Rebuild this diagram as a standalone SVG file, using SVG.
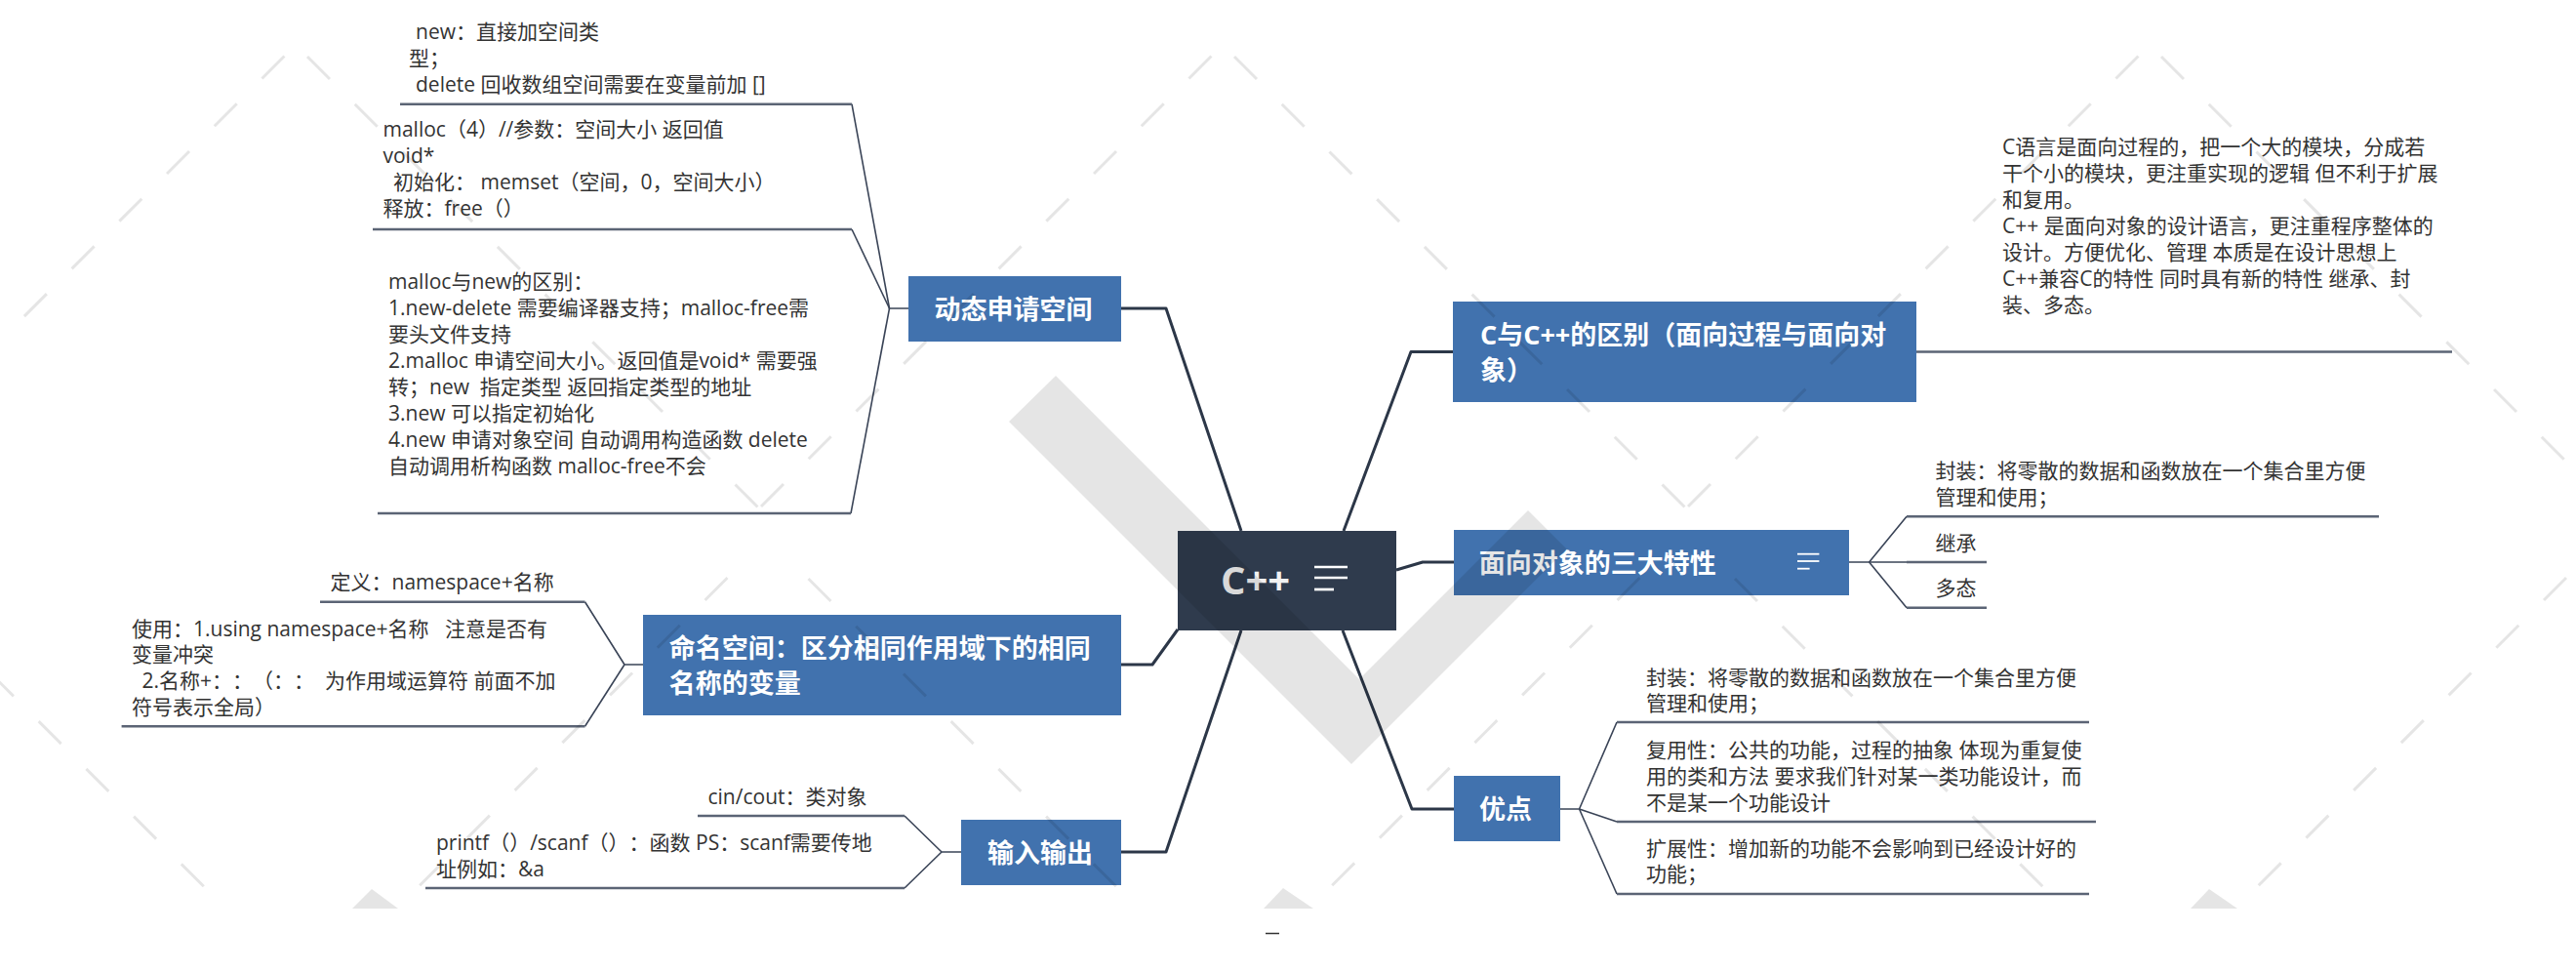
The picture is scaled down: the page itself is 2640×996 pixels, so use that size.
<svg xmlns="http://www.w3.org/2000/svg" width="2640" height="996" viewBox="0 0 2640 996">
<style>
.t{font-family:"Open Sans","Noto Sans CJK SC",sans-serif;font-size:21px;fill:#333;white-space:pre;text-spacing-trim:space-all;font-feature-settings:"chws" 0,"halt" 0}
.nt{font-family:"Open Sans","Noto Sans CJK SC",sans-serif;font-size:27px;font-weight:bold;fill:#fff;white-space:pre;text-spacing-trim:space-all;font-feature-settings:"chws" 0,"halt" 0}
.node{fill:#4172ae}
.main{fill:none;stroke:#2c3748;stroke-width:3;stroke-linejoin:round}
.sub{fill:none;stroke:#3a4457;stroke-width:1.6;stroke-linejoin:round}
.ul{fill:none;stroke:#5b6475;stroke-width:2.5}
.ic{stroke:#fff;stroke-linecap:butt}
.wm{fill:none;stroke:#000;stroke-opacity:.1;stroke-width:3;stroke-dasharray:32.5 36.4}
.wmf{fill:#000;fill-opacity:.1}
</style>
<rect width="2640" height="996" fill="#fff"/>

<g id="connectors">
  <polyline class="main" points="1272,544 1195,316 1149,316"/>
  <polyline class="main" points="1207,645 1181,681 1149,681"/>
  <polyline class="main" points="1272,646 1195,873 1149,873"/>
  <polyline class="main" points="1377,544 1446,360.5 1489,360.5"/>
  <polyline class="main" points="1431,584 1458,576 1490,576"/>
  <polyline class="main" points="1376,646 1447,829 1490,829"/>
  <polyline class="sub" points="931,316 911.5,316 873,106.7"/>
  <polyline class="sub" points="911.5,316 873,235"/>
  <polyline class="sub" points="911.5,316 872,526"/>
  <polyline class="sub" points="659,681 640,681 599.5,616.7"/>
  <polyline class="sub" points="640,681 599.5,744.3"/>
  <polyline class="sub" points="985,873 965,873 927,836"/>
  <polyline class="sub" points="965,873 927,910"/>
  <polyline class="sub" points="1895,576 1915.6,576 1954,529.3"/>
  <polyline class="sub" points="1915.6,576 1954,576"/>
  <polyline class="sub" points="1915.6,576 1954,622.7"/>
  <polyline class="sub" points="1599,829 1618.5,829 1657,740"/>
  <polyline class="sub" points="1618.5,829 1657,842"/>
  <polyline class="sub" points="1618.5,829 1657,916"/>
  <line class="ul" x1="1964" y1="360.6" x2="2040" y2="360.6"/>
</g>

<g id="center">
  <rect x="1207" y="544" width="224" height="102" fill="#2f3b4d"/>
  <text x="1251" y="609" style="font-family:'Open Sans','Noto Sans CJK SC',sans-serif;font-size:40px;font-weight:bold;fill:#f2f2f2">C++</text>
  <line class="ic" x1="1347" y1="581" x2="1381" y2="581" stroke-width="2.7"/>
  <line class="ic" x1="1347" y1="592" x2="1381" y2="592" stroke-width="2.7"/>
  <line class="ic" x1="1347" y1="604" x2="1367" y2="604" stroke-width="2.7"/>
</g>

<g id="node-dynamic">
  <rect class="node" x="931" y="283" width="218" height="67"/>
  <text class="nt" x="957.5" y="327">动态申请空间</text>
</g>
<g id="node-dynamic-new">
  <text class="t"><tspan x="426" y="40">new：直接加空间类</tspan><tspan x="419" y="67">型；</tspan><tspan x="426" y="94">delete 回收数组空间需要在变量前加 []</tspan></text>
  <line class="ul" x1="410" y1="106.7" x2="873" y2="106.7"/>
</g>
<g id="node-dynamic-malloc">
  <text class="t"><tspan x="392.5" y="140">malloc（4）//参数：空间大小 返回值</tspan><tspan x="392.5" y="167">void*</tspan><tspan x="403" y="194">初始化： memset（空间，0，空间大小）</tspan><tspan x="392.5" y="221">释放：free（）</tspan></text>
  <line class="ul" x1="382" y1="235" x2="873" y2="235"/>
</g>
<g id="node-dynamic-diff">
  <text class="t"><tspan x="398" y="296">malloc与new的区别：</tspan><tspan x="398" y="323">1.new-delete 需要编译器支持；malloc-free需</tspan><tspan x="398" y="350">要头文件支持</tspan><tspan x="398" y="377">2.malloc 申请空间大小。返回值是void* 需要强</tspan><tspan x="398" y="404">转；new  指定类型 返回指定类型的地址</tspan><tspan x="398" y="431">3.new 可以指定初始化</tspan><tspan x="398" y="458">4.new 申请对象空间 自动调用构造函数 delete</tspan><tspan x="398" y="485">自动调用析构函数 malloc-free不会</tspan></text>
  <line class="ul" x1="387" y1="526" x2="872" y2="526"/>
</g>

<g id="node-namespace">
  <rect class="node" x="659" y="630" width="490" height="103"/>
  <text class="nt"><tspan x="685.8" y="674">命名空间：区分相同作用域下的相同</tspan><tspan x="685.8" y="710">名称的变量</tspan></text>
</g>
<g id="node-namespace-def">
  <text class="t" x="338.5" y="604">定义：namespace+名称</text>
  <line class="ul" x1="328" y1="616.7" x2="599.5" y2="616.7"/>
</g>
<g id="node-namespace-use">
  <text class="t"><tspan x="135" y="651.5">使用：1.using namespace+名称   注意是否有</tspan><tspan x="135" y="678.3">变量冲突</tspan><tspan x="145.6" y="705">2.名称+：：（：：  为作用域运算符 前面不加</tspan><tspan x="135" y="731.8">符号表示全局）</tspan></text>
  <line class="ul" x1="124.6" y1="744.3" x2="599.5" y2="744.3"/>
</g>

<g id="node-io">
  <rect class="node" x="985" y="840" width="164" height="67"/>
  <text class="nt" x="1012" y="884">输入输出</text>
</g>
<g id="node-io-cin">
  <text class="t" x="725.5" y="823.5">cin/cout：类对象</text>
  <line class="ul" x1="715" y1="836" x2="927" y2="836"/>
</g>
<g id="node-io-printf">
  <text class="t"><tspan x="447" y="870.5">printf（）/scanf（）：函数 PS：scanf需要传地</tspan><tspan x="447" y="897.5">址例如：&amp;a</tspan></text>
  <line class="ul" x1="436" y1="910" x2="927" y2="910"/>
</g>

<g id="node-cdiff">
  <rect class="node" x="1489" y="309" width="475" height="103"/>
  <text class="nt"><tspan x="1517" y="353">C与C++的区别（面向过程与面向对</tspan><tspan x="1517" y="389">象）</tspan></text>
</g>
<g id="node-cdiff-text">
  <text class="t"><tspan x="2052" y="157.5">C语言是面向过程的，把一个大的模块，分成若</tspan><tspan x="2052" y="184.6">干个小的模块，更注重实现的逻辑 但不利于扩展</tspan><tspan x="2052" y="211.7">和复用。</tspan><tspan x="2052" y="238.8">C++ 是面向对象的设计语言，更注重程序整体的</tspan><tspan x="2052" y="265.9">设计。方便优化、管理 本质是在设计思想上</tspan><tspan x="2052" y="293">C++兼容C的特性 同时具有新的特性 继承、封</tspan><tspan x="2052" y="320">装、多态。</tspan></text>
  <line class="ul" x1="2040" y1="360.6" x2="2513" y2="360.6"/>
</g>

<g id="node-oop">
  <rect class="node" x="1490" y="543" width="405" height="67"/>
  <text class="nt" x="1515.7" y="587">面向对象的三大特性</text>
  <line class="ic" x1="1842" y1="567.7" x2="1864.4" y2="567.7" stroke-width="1.8"/>
  <line class="ic" x1="1842" y1="575" x2="1864.4" y2="575" stroke-width="1.8"/>
  <line class="ic" x1="1842" y1="582.7" x2="1854.6" y2="582.7" stroke-width="1.8"/>
</g>
<g id="node-oop-enc">
  <text class="t"><tspan x="1983.6" y="490">封装：将零散的数据和函数放在一个集合里方便</tspan><tspan x="1983.6" y="517">管理和使用；</tspan></text>
  <line class="ul" x1="1954" y1="529.3" x2="2438" y2="529.3"/>
</g>
<g id="node-oop-inh">
  <text class="t" x="1983.6" y="563.5">继承</text>
  <line class="ul" x1="1954" y1="576" x2="2036" y2="576"/>
</g>
<g id="node-oop-poly">
  <text class="t" x="1983.6" y="610">多态</text>
  <line class="ul" x1="1954" y1="622.7" x2="2036" y2="622.7"/>
</g>

<g id="node-adv">
  <rect class="node" x="1490" y="795" width="109" height="67"/>
  <text class="nt" x="1516" y="839">优点</text>
</g>
<g id="node-adv-enc">
  <text class="t"><tspan x="1687" y="701.5">封装：将零散的数据和函数放在一个集合里方便</tspan><tspan x="1687" y="728.3">管理和使用；</tspan></text>
  <line class="ul" x1="1657" y1="740" x2="2141" y2="740"/>
</g>
<g id="node-adv-reuse">
  <text class="t"><tspan x="1687" y="776">复用性：公共的功能，过程的抽象 体现为重复使</tspan><tspan x="1687" y="802.8">用的类和方法 要求我们针对某一类功能设计，而</tspan><tspan x="1687" y="829.5">不是某一个功能设计</tspan></text>
  <line class="ul" x1="1657" y1="842" x2="2148" y2="842"/>
</g>
<g id="node-adv-ext">
  <text class="t"><tspan x="1687" y="876.5">扩展性：增加新的功能不会影响到已经设计好的</tspan><tspan x="1687" y="903.3">功能；</tspan></text>
  <line class="ul" x1="1657" y1="916" x2="2141" y2="916"/>
</g>

<line x1="1297" y1="956.5" x2="1311" y2="956.5" stroke="#333" stroke-width="1.5"/>

<g id="watermark">
  <polygon class="wmf" points="1034,432 1082,385 1393,696 1566,523 1605.5,562.5 1385,783"/>
  <polygon class="wmf" points="361,931 381,911 408,931"/>
  <polygon class="wmf" points="1295,931 1315,910 1346,931"/>
  <polygon class="wmf" points="2245,931 2264,911 2293,931"/>
  <path class="wm" d="M1265,58 L1727,520 M1730,519 L2192,57 M315,58 L777,520 M780,519 L1242,57 M-170,519 L292,57 M2215,58 L2677,520"/>
  <path class="wm" d="M1778,593 L2116,931 M2630,592 L2291,931 M828.5,593 L1166.5,931 M1680.5,592 L1341.5,931 M-106.5,593 L231.5,931 M745.5,592 L406.5,931"/>
</g>
</svg>
